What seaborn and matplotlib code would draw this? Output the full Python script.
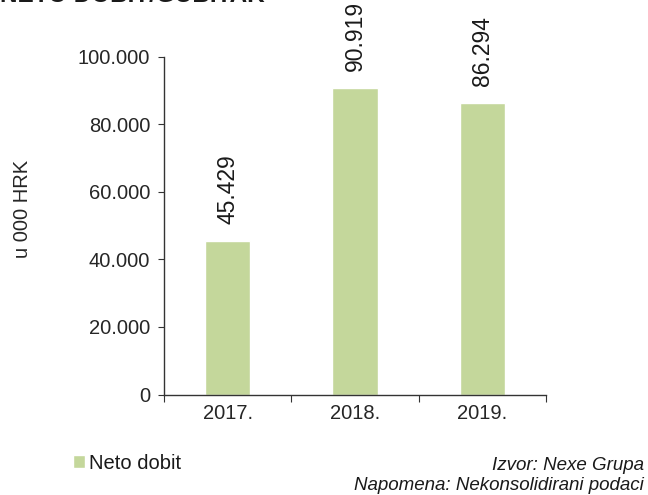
import matplotlib
matplotlib.use('Agg')
import matplotlib.pyplot as plt
import seaborn as sns
import pandas as pd

# Podaci
godine = ['2017.', '2018.', '2019.']
neto_dobit = [45429, 90919, 86294]
oznake = ['45.429', '90.919', '86.294']
y_ticks = [0, 20000, 40000, 60000, 80000, 100000]
y_labels = ['0', '20.000', '40.000', '60.000', '80.000', '100.000']

sns.set_style('ticks')
plt.rcParams['font.family'] = ['Liberation Sans', 'DejaVu Sans']
plt.rcParams['text.color'] = '#1a1a1a'

df = pd.DataFrame({'godina': godine, 'dobit': neto_dobit})

fig = plt.figure(figsize=(6.48, 4.95), dpi=100)
ax = fig.add_axes([0.253, 0.203, 0.590, 0.682])

sns.barplot(data=df, x='godina', y='dobit', color='#c4d79b', saturation=1,
            width=0.355, label='Neto dobit', ax=ax)

# Oznake vrijednosti iznad stupaca
for i, (v, t) in enumerate(zip(neto_dobit, oznake)):
    ax.text(i, v + 5000, t, rotation=90, ha='center', va='bottom', fontsize=16.5)

ax.set_ylim(0, 100000)
ax.set_yticks(y_ticks)
ax.set_yticklabels(y_labels, fontsize=14.5)
ax.set_xlim(-0.5, 2.5)
ax.set_xticks([-0.5, 0.5, 1.5, 2.5])
ax.set_xticklabels([])
ax.set_xticks(range(len(godine)), godine, minor=True, fontsize=14.5)
ax.tick_params(axis='x', which='major', length=5, direction='out', color='#333333')
ax.tick_params(axis='x', which='minor', length=0, pad=7)
ax.tick_params(axis='y', length=4, color='#333333', pad=6)
ax.set_xlabel('')
ax.set_ylabel('u 000 HRK', fontsize=14.5)
ax.yaxis.set_label_coords(-0.345, 0.55)
for s in ['left', 'bottom']:
    ax.spines[s].set_color('#333333')
    ax.spines[s].set_linewidth(1.0)
sns.despine(ax=ax)

# Naslov (odrezan na vrhu)
fig.text(0.0, 0.996, 'NETO DOBIT/GUBITAK', fontsize=17.5, fontweight='bold',
         ha='left', va='baseline')

# Legenda
ax.legend(loc='center left', bbox_to_anchor=(0.112, 0.064),
          bbox_transform=fig.transFigure, frameon=False, fontsize=14.5,
          handlelength=0.6, handleheight=0.6, handletextpad=0.2,
          borderaxespad=0, borderpad=0)

fig.text(0.994, 0.060, 'Izvor: Nexe Grupa', fontsize=13.5, style='italic',
         ha='right', va='center')
fig.text(0.994, 0.020, 'Napomena: Nekonsolidirani podaci', fontsize=13.5,
         style='italic', ha='right', va='center')

plt.savefig('out.png', dpi=100)
